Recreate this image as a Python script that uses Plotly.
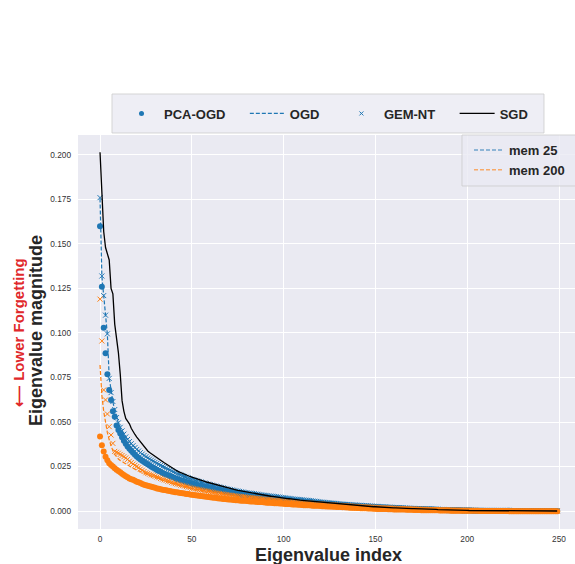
import plotly.graph_objects as go

# eigenvalue index (x categories)
eig_index = list(range(250))

# values below are in units of 1e-4
sgd_e4 = [
    2015, 1750, 1570, 1480, 1450, 1410, 1250, 1220, 1050, 970,
    890, 770, 620, 560, 520, 505, 490, 465, 445, 430,
    415, 402, 390, 375, 360, 345, 337, 329, 321, 313,
    305, 298, 291, 284, 278, 271, 264, 257, 250, 242,
    235, 230, 225, 220, 215, 210, 206, 202, 198, 194,
    190, 186, 182, 179, 176, 172, 169, 166, 163, 160,
    157, 154, 151, 148, 145, 142, 139, 136, 133, 130,
    128, 125, 123, 120, 118, 116, 114, 112, 110, 108,
    106, 104, 102, 100, 98, 96, 95, 93, 91, 90,
    88, 86, 85, 83, 82, 80, 79, 77, 76, 74,
    73, 71, 70, 69, 67, 66, 65, 63, 62, 61,
    60, 59, 57, 56, 55, 54, 53, 51, 50, 49,
    48, 47, 46, 45, 44, 43, 42, 41, 40, 39,
    38, 37, 37, 36, 35, 34, 33, 33, 32, 31,
    30, 29, 29, 28, 27, 27, 26, 25, 25, 24,
    24, 23, 22, 22, 21, 21, 20, 20, 19, 19,
    18, 18, 17, 17, 16, 16, 15, 15, 14, 14,
    13, 13, 13, 12, 12, 11, 11, 11, 10, 10,
    10, 9, 9, 9, 8, 8, 8, 7, 7, 7,
    6, 6, 6, 5, 5, 5, 5, 4, 4, 4,
    4, 3, 3, 3, 3, 3, 2, 2, 2, 2,
    2, 1, 1, 1, 1, 1, 1, 1, 1, 1,
    1, 1, 0, 0, 0, 0, 0, 0, 0, 0,
    0, 0, 0, 0, 0, 0, 0, 0, 0, 0,
    0, 0, 0, 0, 0, 0, 0, 0, 0, 0,
]

pca_ogd_mem25_e4 = [
    1600, 1260, 1030, 886, 768, 680, 624, 560, 530, 480,
    455, 435, 415, 395, 378, 363, 350, 338, 327, 316,
    306, 298, 290, 283, 275, 268, 262, 255, 249, 243,
    237, 231, 225, 220, 214, 210, 205, 201, 196, 192,
    188, 184, 180, 176, 173, 170, 166, 163, 160, 157,
    154, 151, 148, 145, 143, 140, 138, 135, 133, 130,
    128, 126, 123, 121, 119, 117, 114, 112, 110, 108,
    106, 104, 102, 100, 98, 96, 94, 92, 91, 89,
    88, 87, 86, 85, 84, 83, 81, 80, 79, 77,
    76, 75, 74, 72, 71, 70, 69, 68, 66, 65,
    64, 63, 62, 60, 59, 58, 57, 56, 55, 54,
    53, 52, 51, 50, 49, 48, 47, 46, 45, 44,
    43, 42, 41, 41, 40, 39, 38, 37, 36, 35,
    35, 34, 33, 32, 32, 31, 30, 29, 28, 28,
    27, 26, 26, 25, 24, 24, 23, 23, 22, 21,
    21, 20, 20, 19, 19, 18, 18, 17, 17, 16,
    16, 15, 15, 14, 14, 13, 13, 12, 12, 12,
    11, 11, 11, 10, 10, 10, 9, 9, 9, 8,
    8, 8, 7, 7, 7, 6, 6, 6, 6, 5,
    5, 5, 5, 4, 4, 4, 4, 3, 3, 3,
    3, 3, 3, 2, 2, 2, 2, 2, 2, 2,
    1, 1, 1, 1, 1, 1, 1, 1, 1, 1,
    1, 1, 1, 1, 1, 0, 0, 0, 0, 0,
    0, 0, 0, 0, 0, 0, 0, 0, 0, 0,
    0, 0, 0, 0, 0, 0, 0, 0, 0, 0,
]

gem_nt_mem25_e4 = [
    1760, 1320, 1210, 1100, 995, 745, 665, 615, 570, 525,
    495, 470, 450, 432, 416, 402, 390, 378, 367, 356,
    346, 337, 328, 320, 312, 305, 298, 292, 286, 280,
    274, 268, 262, 256, 250, 245, 240, 235, 230, 225,
    220, 215, 210, 206, 202, 198, 194, 190, 186, 182,
    178, 175, 172, 169, 166, 163, 160, 157, 154, 151,
    148, 145, 142, 140, 137, 135, 132, 130, 127, 125,
    122, 120, 118, 116, 114, 112, 110, 108, 106, 104,
    103, 101, 100, 98, 97, 95, 94, 92, 91, 89,
    88, 87, 85, 84, 83, 81, 80, 79, 78, 76,
    75, 74, 72, 71, 70, 68, 67, 66, 65, 64,
    63, 62, 61, 60, 59, 58, 56, 55, 54, 52,
    51, 50, 49, 48, 47, 46, 45, 44, 43, 42,
    41, 40, 39, 38, 37, 37, 36, 35, 34, 34,
    33, 32, 32, 31, 30, 30, 29, 28, 28, 27,
    26, 26, 25, 25, 24, 23, 23, 22, 22, 21,
    20, 20, 19, 19, 18, 18, 17, 17, 16, 16,
    15, 15, 14, 14, 14, 13, 13, 12, 12, 12,
    11, 11, 10, 10, 10, 9, 9, 9, 8, 8,
    8, 7, 7, 7, 7, 6, 6, 6, 6, 5,
    5, 5, 5, 4, 4, 4, 4, 4, 3, 3,
    3, 3, 3, 3, 3, 2, 2, 2, 2, 2,
    2, 2, 2, 2, 2, 2, 1, 1, 1, 1,
    1, 1, 1, 1, 1, 1, 1, 1, 1, 1,
    1, 1, 1, 1, 1, 1, 1, 1, 1, 1,
]

ogd_mem25_e4 = [
    1755, 1318, 1210, 1100, 992, 748, 668, 612, 568, 527,
    494, 471, 449, 433, 415, 403, 389, 379, 366, 357,
    345, 338, 327, 321, 311, 306, 297, 293, 285, 281,
    273, 269, 261, 257, 249, 246, 239, 236, 229, 226,
    219, 216, 209, 207, 201, 199, 193, 191, 185, 183,
    177, 176, 171, 170, 165, 164, 159, 158, 153, 152,
    147, 146, 141, 141, 136, 136, 131, 131, 126, 126,
    121, 121, 117, 117, 113, 113, 109, 109, 105, 105,
    102, 102, 99, 99, 96, 96, 93, 93, 90, 90,
    87, 88, 84, 85, 82, 82, 79, 80, 77, 77,
    74, 75, 71, 72, 69, 69, 66, 67, 64, 65,
    62, 63, 60, 61, 58, 59, 55, 56, 53, 53,
    50, 51, 48, 49, 46, 47, 44, 45, 42, 43,
    40, 41, 38, 39, 36, 38, 35, 36, 33, 35,
    32, 33, 31, 32, 29, 31, 28, 29, 27, 28,
    25, 27, 24, 26, 23, 24, 22, 23, 21, 22,
    19, 21, 18, 20, 17, 19, 16, 18, 15, 17,
    14, 16, 13, 15, 13, 14, 12, 13, 11, 13,
    10, 12, 9, 11, 9, 10, 8, 10, 7, 9,
    7, 8, 6, 8, 6, 7, 5, 7, 5, 6,
    4, 6, 4, 5, 3, 5, 3, 5, 2, 4,
    2, 4, 2, 4, 2, 3, 1, 3, 1, 3,
    1, 3, 1, 3, 1, 3, 0, 2, 0, 2,
    0, 2, 0, 2, 0, 2, 0, 2, 0, 2,
    0, 2, 0, 2, 0, 2, 0, 2, 0, 2,
]

pca_ogd_mem200_e4 = [
    418, 370, 335, 305, 285, 268, 258, 250, 240, 232,
    225, 218, 210, 203, 195, 189, 183, 179, 175, 170,
    165, 161, 157, 152, 148, 145, 142, 139, 136, 133,
    130, 127, 125, 122, 120, 118, 116, 114, 112, 110,
    108, 106, 105, 103, 101, 100, 98, 96, 95, 93,
    92, 90, 89, 87, 86, 85, 83, 82, 80, 79,
    78, 76, 75, 74, 72, 71, 70, 68, 67, 66,
    65, 64, 63, 62, 61, 60, 59, 58, 58, 57,
    56, 55, 54, 54, 53, 52, 51, 50, 50, 49,
    48, 47, 47, 46, 45, 44, 44, 43, 42, 42,
    41, 40, 40, 39, 38, 37, 37, 36, 35, 35,
    34, 33, 33, 32, 32, 31, 30, 30, 29, 29,
    28, 27, 27, 26, 26, 25, 25, 24, 24, 23,
    22, 22, 21, 21, 20, 20, 19, 19, 18, 18,
    17, 17, 16, 16, 15, 15, 14, 14, 14, 13,
    13, 12, 12, 12, 11, 11, 11, 10, 10, 10,
    9, 9, 9, 8, 8, 8, 8, 7, 7, 7,
    7, 6, 6, 6, 6, 5, 5, 5, 5, 5,
    4, 4, 4, 4, 4, 3, 3, 3, 3, 3,
    3, 2, 2, 2, 2, 2, 2, 2, 1, 1,
    1, 1, 1, 1, 1, 1, 1, 0, 0, 0,
    0, 0, 0, 0, 0, 0, 0, 0, 0, 0,
    0, 0, 0, -1, -1, -1, -1, -1, -1, -1,
    -1, -1, -1, -1, -1, -1, -1, -1, -1, -1,
    -1, -1, -1, -2, -2, -2, -2, -2, -2, -2,
]

gem_nt_mem200_e4 = [
    1190, 955, 680, 624, 545, 474, 427, 380, 335, 330,
    325, 318, 312, 305, 298, 290, 280, 272, 264, 257,
    250, 243, 236, 229, 222, 215, 211, 207, 203, 199,
    195, 191, 187, 183, 179, 175, 172, 168, 165, 161,
    157, 154, 151, 148, 145, 143, 140, 137, 134, 131,
    128, 126, 124, 122, 120, 118, 116, 114, 112, 110,
    108, 106, 104, 102, 100, 98, 96, 95, 93, 92,
    90, 89, 87, 86, 85, 83, 82, 81, 80, 79,
    77, 76, 75, 74, 73, 72, 71, 70, 68, 67,
    66, 65, 64, 63, 62, 61, 60, 59, 58, 57,
    56, 55, 55, 54, 53, 52, 51, 50, 49, 48,
    48, 47, 46, 45, 44, 44, 43, 42, 41, 40,
    40, 39, 38, 38, 37, 36, 35, 35, 34, 33,
    33, 32, 31, 31, 30, 29, 29, 28, 27, 27,
    26, 25, 25, 24, 24, 23, 23, 22, 22, 21,
    21, 20, 20, 19, 19, 18, 18, 17, 17, 16,
    16, 15, 15, 15, 14, 14, 13, 13, 13, 12,
    12, 12, 11, 11, 11, 10, 10, 10, 9, 9,
    9, 8, 8, 8, 8, 7, 7, 7, 7, 6,
    6, 6, 6, 5, 5, 5, 5, 5, 4, 4,
    4, 4, 4, 3, 3, 3, 3, 3, 3, 2,
    2, 2, 2, 2, 2, 2, 1, 1, 1, 1,
    1, 1, 1, 1, 1, 1, 1, 1, 0, 0,
    0, 0, 0, 0, 0, 0, 0, 0, 0, 0,
    0, 0, 0, 0, 0, 0, 0, 0, 0, 0,
]

ogd_mem200_e4 = [
    820, 650, 560, 490, 440, 400, 365, 338, 318, 303,
    292, 284, 277, 270, 264, 258, 252, 246, 240, 235,
    230, 225, 220, 215, 211, 207, 203, 199, 195, 191,
    187, 183, 180, 176, 173, 170, 166, 163, 160, 157,
    154, 151, 148, 145, 142, 140, 137, 135, 132, 130,
    127, 125, 123, 121, 119, 117, 115, 113, 111, 109,
    107, 105, 103, 101, 99, 97, 95, 94, 92, 91,
    89, 88, 86, 85, 84, 82, 81, 80, 79, 78,
    76, 75, 74, 73, 72, 71, 70, 69, 67, 66,
    65, 64, 63, 62, 61, 60, 59, 58, 57, 56,
    55, 54, 54, 53, 52, 51, 50, 49, 48, 47,
    47, 46, 45, 44, 43, 43, 42, 41, 40, 39,
    39, 38, 37, 37, 36, 35, 34, 34, 33, 32,
    32, 31, 30, 30, 29, 28, 28, 27, 26, 26,
    25, 24, 24, 23, 23, 22, 22, 21, 21, 20,
    20, 19, 19, 18, 18, 17, 17, 16, 16, 15,
    15, 14, 14, 14, 13, 13, 12, 12, 12, 11,
    11, 11, 10, 10, 10, 9, 9, 9, 8, 8,
    8, 8, 7, 7, 7, 7, 6, 6, 6, 6,
    5, 5, 5, 5, 4, 4, 4, 4, 4, 3,
    3, 3, 3, 3, 3, 2, 2, 2, 2, 2,
    2, 2, 1, 1, 1, 1, 1, 1, 1, 1,
    1, 1, 1, 1, 1, 0, 0, 0, 0, 0,
    0, 0, 0, 0, 0, 0, 0, 0, 0, 0,
    0, 0, 0, 0, 0, 0, 0, 0, 0, 0,
]

x_tick_vals = [0, 50, 100, 150, 200, 250]
y_tick_vals = [0.0, 0.025, 0.05, 0.075, 0.1, 0.125, 0.15, 0.175, 0.2]
y_tick_text = ["0.000", "0.025", "0.050", "0.075", "0.100", "0.125", "0.150", "0.175", "0.200"]

for _name, _arr in [("sgd", sgd_e4), ("pca25", pca_ogd_mem25_e4), ("gem25", gem_nt_mem25_e4),
                    ("ogd25", ogd_mem25_e4), ("pca200", pca_ogd_mem200_e4),
                    ("gem200", gem_nt_mem200_e4), ("ogd200", ogd_mem200_e4)]:
    assert len(_arr) == len(eig_index), (_name, len(_arr))


def to_value(arr):
    return [a / 10000.0 for a in arr]


BLUE = "#1f77b4"
ORANGE = "#ff7f0e"
FONT = "Liberation Sans"
DASH = "4px,2px"

fig = go.Figure()

# data traces
for color, pca, ogd, gem in [(BLUE, pca_ogd_mem25_e4, ogd_mem25_e4, gem_nt_mem25_e4),
                             (ORANGE, pca_ogd_mem200_e4, ogd_mem200_e4, gem_nt_mem200_e4)]:
    fig.add_trace(go.Scatter(x=eig_index, y=to_value(pca), mode="markers",
                             marker=dict(symbol="circle", size=6, color=color, line=dict(width=0)),
                             showlegend=False, hoverinfo="skip"))
    fig.add_trace(go.Scatter(x=eig_index, y=to_value(ogd), mode="lines",
                             line=dict(color=color, width=1.2, dash=DASH),
                             showlegend=False, hoverinfo="skip"))
    fig.add_trace(go.Scatter(x=eig_index, y=to_value(gem), mode="markers",
                             marker=dict(symbol="x-thin", size=5, color=color,
                                         line=dict(width=1, color=color)),
                             showlegend=False, hoverinfo="skip"))

fig.add_trace(go.Scatter(x=eig_index, y=to_value(sgd_e4), mode="lines",
                         line=dict(color="black", width=1.3),
                         showlegend=False, hoverinfo="skip"))

# legend 1 (methods)
PAD = "\u00a0" * 4
fig.add_trace(go.Scatter(x=[None], y=[None], mode="markers", name="PCA-OGD" + PAD,
                         marker=dict(symbol="circle", size=5, color=BLUE), legend="legend"))
fig.add_trace(go.Scatter(x=[None], y=[None], mode="lines", name="OGD" + PAD,
                         line=dict(color=BLUE, width=1.3, dash=DASH), legend="legend"))
fig.add_trace(go.Scatter(x=[None], y=[None], mode="markers", name="GEM-NT" + PAD,
                         marker=dict(symbol="x-thin", size=4, color=BLUE, line=dict(width=1, color=BLUE)),
                         legend="legend"))
fig.add_trace(go.Scatter(x=[None], y=[None], mode="lines", name="SGD",
                         line=dict(color="black", width=1.2), legend="legend"))

# legend 2 (memory)
fig.add_trace(go.Scatter(x=[None], y=[None], mode="lines", name="mem 25",
                         line=dict(color="rgba(31,119,180,0.6)", width=1.5, dash=DASH), legend="legend2"))
fig.add_trace(go.Scatter(x=[None], y=[None], mode="lines", name="mem 200",
                         line=dict(color="rgba(255,127,14,0.6)", width=1.5, dash=DASH), legend="legend2"))

W, H = 575, 564
L, R, T, B = 78, 0, 135, 35
pw, ph = W - L - R, H - T - B


def px_x(p):
    return (p - L) / pw


def px_y(p):
    return (H - B - p) / ph


legend_font = dict(family=FONT, size=13, color="#262626", weight="bold")

fig.update_layout(
    width=W, height=H,
    margin=dict(l=L, r=R, t=T, b=B, autoexpand=False),
    paper_bgcolor="white",
    plot_bgcolor="#EAEAF2",
    font=dict(family=FONT, color="#262626"),
    xaxis=dict(range=[-12.0, 258.7], tickvals=x_tick_vals, showgrid=True, gridcolor="white",
               gridwidth=1, zeroline=False, showline=False, ticks="", ticklabelstandoff=4,
               tickfont=dict(family=FONT, size=8.3, color="#333333")),
    yaxis=dict(range=[-0.0101, 0.2112], tickvals=y_tick_vals, ticktext=y_tick_text, showgrid=True,
               gridcolor="white", gridwidth=1, zeroline=False, showline=False, ticks="",
               ticklabelstandoff=6,
               tickfont=dict(family=FONT, size=8.3, color="#333333")),
    legend=dict(orientation="h", x=px_x(119), xanchor="left", y=px_y(113.5), yanchor="middle",
                bgcolor="rgba(0,0,0,0)", borderwidth=0, itemwidth=35, font=legend_font,
                itemclick=False, itemdoubleclick=False),
    legend2=dict(orientation="v", x=px_x(469), xanchor="left", y=px_y(135), yanchor="top",
                 bgcolor="rgba(0,0,0,0)", borderwidth=0, itemwidth=30, font=legend_font,
                 itemclick=False, itemdoubleclick=False),
    shapes=[
        dict(type="rect", xref="paper", yref="paper", x0=px_x(112), x1=px_x(544),
             y0=px_y(133), y1=px_y(94), fillcolor="rgba(234,234,242,0.8)",
             line=dict(color="rgba(204,204,204,0.8)", width=1), layer="above"),
        dict(type="rect", xref="paper", yref="paper", x0=px_x(462), x1=px_x(580),
             y0=px_y(186), y1=px_y(135), fillcolor="rgba(234,234,242,0.8)",
             line=dict(color="rgba(204,204,204,0.8)", width=1), layer="above"),
    ],
    annotations=[
        dict(text="Eigenvalue index", xref="paper", yref="paper", x=px_x(328), y=px_y(555),
             xanchor="center", yanchor="middle", showarrow=False,
             font=dict(family=FONT, size=18, color="#262626", weight="bold")),
        dict(text="Eigenvalue magnitude", xref="paper", yref="paper", x=px_x(36), y=px_y(331),
             xanchor="center", yanchor="middle", textangle=-90, showarrow=False,
             font=dict(family=FONT, size=18, color="#262626", weight="bold")),
        dict(text="\u27f5 Lower Forgetting", xref="paper", yref="paper", x=px_x(18), y=px_y(333),
             xanchor="center", yanchor="middle", textangle=-90, showarrow=False,
             font=dict(family=FONT, size=15, color="#e0282b", weight="bold")),
    ],
)

fig.write_html("out.html", config={"displayModeBar": False},
               post_script="document.body.style.margin='0';")
